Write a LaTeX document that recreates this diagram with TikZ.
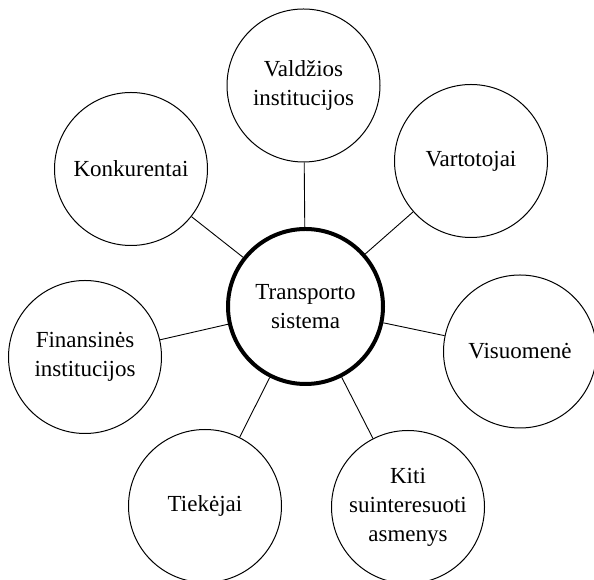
\documentclass[tikz,border=0pt]{standalone}
\usepackage{fontspec}
\setmainfont{Liberation Serif}
\begin{document}
\begin{tikzpicture}[x=1pt,y=1pt,
  party/.style={circle, draw=black, line width=1pt, minimum size=153pt, inner sep=0pt,
    align=center, font=\fontsize{23}{29}\selectfont},
  hub/.style={party, line width=4pt, minimum size=155pt},
  link/.style={draw=black, line width=0.9pt}]
\useasboundingbox (0,0) rectangle (594,580);
% central system
\node[hub] (T) at (305.5,273.5) {Transporto\\sistema};
% surrounding stakeholders
\node[party] (V)  at (303.5,494.5) {Valdžios\\institucijos};
\node[party] (K)  at (131,411)     {Konkurentai};
\node[party] (Va) at (471,419)     {Vartotojai};
\node[party] (F)  at (85,223)      {Finansinės\\institucijos};
\node[party] (Vi) at (520,228.5)   {Visuomenė};
\node[party] (Ti) at (205,74)      {Tiekėjai};
\node[party] (Ki) at (408,73)      {Kiti\\suinteresuoti\\asmenys};
% connectors
\foreach \n in {V,K,Va,F,Vi,Ti,Ki}
  \draw[link] (T) -- (\n);
\end{tikzpicture}
\end{document}
